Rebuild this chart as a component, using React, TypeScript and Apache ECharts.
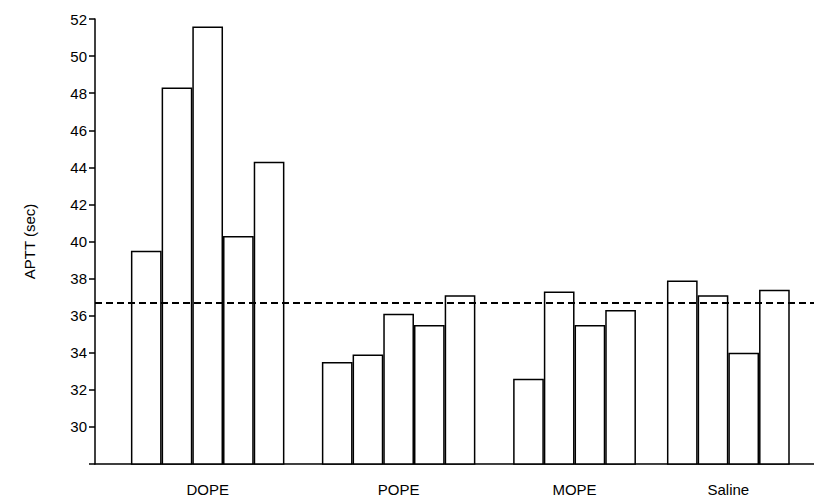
import React, { useRef, useEffect } from 'react';
import * as echarts from 'echarts';

// x positions in units of one bar width, measured from the y axis
const groups = ['DOPE', 'POPE', 'MOPE', 'Saline'];
const groupStarts = [1.17, 7.39, 13.62, 18.63];
const groupValues = [
  [39.5, 48.3, 51.6, 40.3, 44.3],
  [33.5, 33.9, 36.1, 35.5, 37.1],
  [32.6, 37.3, 35.5, 36.3],
  [37.9, 37.1, 34.0, 37.4],
];
const controlMean = 36.7;
const yTicks = [30, 32, 34, 36, 38, 40, 42, 44, 46, 48, 50, 52];

export default function App() {
  const ref = useRef<HTMLDivElement>(null);

  useEffect(() => {
    if (!ref.current) return;
    const chart = echarts.init(ref.current, null, { renderer: 'svg' });
    const font = 'Liberation Sans, Arial, sans-serif';

    const barData: number[][] = [];
    groupValues.forEach((vals, g) => {
      vals.forEach((v, i) => barData.push([groupStarts[g] + i + 0.5, v]));
    });
    const centers = groupValues.map((vals, g) => groupStarts[g] + vals.length / 2);

    chart.setOption({
      animation: false,
      grid: { left: 95, right: 0, top: 19, bottom: 36 },
      xAxis: {
        type: 'value',
        min: 0,
        max: 23.42,
        splitLine: { show: false },
        axisLine: { lineStyle: { color: '#000', width: 1.5 } },
        axisTick: { show: false },
        axisLabel: {
          customValues: centers,
          formatter: (v: number) => {
            const i = centers.findIndex(c => Math.abs(c - v) < 0.01);
            return i >= 0 ? groups[i] : '';
          },
          color: '#000',
          fontFamily: font,
          fontSize: 15,
          margin: 18,
        },
      },
      yAxis: {
        type: 'value',
        min: 28,
        max: 52,
        interval: 2,
        name: 'APTT (sec)',
        nameLocation: 'middle',
        nameGap: 58,
        nameTextStyle: { color: '#000', fontFamily: font, fontSize: 15 },
        splitLine: { show: false },
        axisLine: { show: true, lineStyle: { color: '#000', width: 1.5 } },
        axisTick: { show: true, length: 6, lineStyle: { color: '#000', width: 1.5 } },
        axisLabel: {
          color: '#000',
          fontFamily: font,
          fontSize: 15,
          formatter: (v: number) => (yTicks.includes(v) ? String(v) : ''),
        },
      },
      series: [
        {
          type: 'bar',
          data: barData,
          barWidth: 30.7,
          itemStyle: { color: '#fff', borderColor: '#000', borderWidth: 1.5 },
          markLine: {
            symbol: 'none',
            silent: true,
            label: { show: false },
            lineStyle: { color: '#000', type: [7, 4], width: 2 },
            data: [{ yAxis: controlMean }],
          },
        },
      ],
    });
    return () => chart.dispose();
  }, []);

  return <div ref={ref} style={{ position: 'absolute', left: 0, top: 0, width: 814, height: 500 }} />;
}
